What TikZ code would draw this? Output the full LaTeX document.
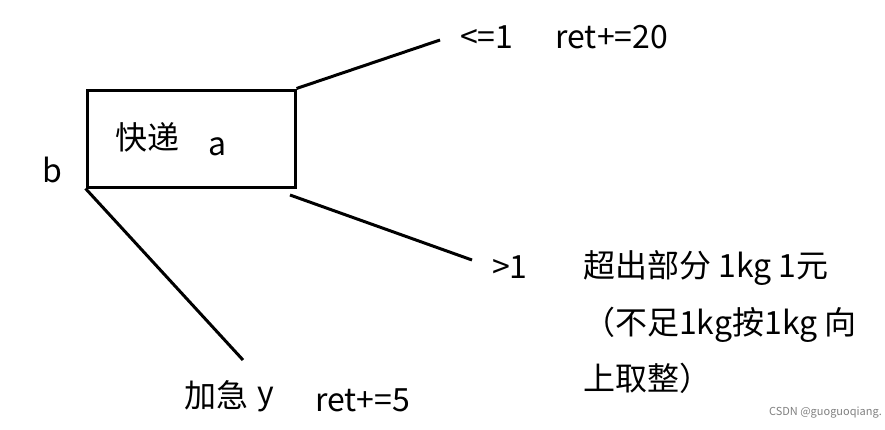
\documentclass[tikz,border=0pt]{standalone}
\usepackage{fontspec}
\setmainfont{Noto Sans CJK SC}
\begin{document}
\begin{tikzpicture}[x=1pt,y=-1pt,
  lbl/.style={anchor=west,inner sep=0pt,font=\fontsize{32}{36}\selectfont},
  ln/.style={line width=3pt}]
\useasboundingbox (0,0) rectangle (885,429);
\node[draw,line width=3pt,minimum width=208pt,minimum height=97pt,inner sep=0pt] (box) at (191,138.5) {};
\coordinate (c1) at (440,40);
\coordinate (c2) at (472,260);
\coordinate (c3) at (243,360);
\draw[ln] (box.north east) -- (c1);
\draw[ln] (290,195) -- (c2);
\draw[ln] (box.south west) -- (c3);
\node[lbl] (t1) at (460,37) {<=1\hspace{42pt}ret+=20};
\node[lbl] (kd) at (115,137) {快递};
\node[lbl] (a) at (208,147) {a};
\node[lbl] (b) at (42,170) {b};
\node[lbl] (g1) at (492,267) {>1};
\node[lbl] (e1) at (583,268) {超出部分 1kg 1元};
\node[lbl] (e2) at (583,325) {（不足1kg按1kg 向};
\node[lbl] (e3) at (583,378) {上取整）};
\node[lbl] (jj) at (184,395) {加急};
\node[lbl] (y) at (257,400) {y};
\node[lbl] (r5) at (315,400) {ret+=5};
\node[anchor=east,inner sep=0pt,text=gray,font=\fontsize{11}{13}\selectfont] (wm) at (882,413) {CSDN @guoguoqiang.};
\end{tikzpicture}
\end{document}
